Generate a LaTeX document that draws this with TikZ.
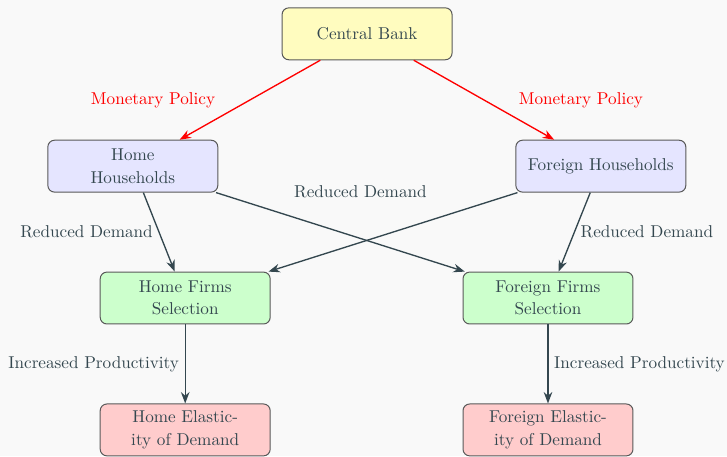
\documentclass[tikz,border=0pt]{standalone}
\usepackage{tikz}
\usetikzlibrary{arrows.meta}
\definecolor{inkgray}{HTML}{34474F}
\definecolor{paper}{HTML}{F9F9F9}

\begin{document}
\begin{tikzpicture}[ > = {Stealth[length=2.4mm,width=1.8mm]}, font=\fontsize{10.25}{13.3}\selectfont, box/.style = {draw=black!65, semithick, rounded corners=4pt, minimum width=3.57cm, minimum height=1.09cm, align=center, text=inkgray}, flow/.style = {thick, inkgray, ->}, policy/.style = {thick, red, ->}]

    % canvas
    \clip (0,0) rectangle (15.27,-9.58);
    \fill[paper] (0,0) rectangle (15.27,-9.58);

    % nodes
    \node[box, fill=yellow!25] (cb) at (7.71,-0.71) {Central Bank};
    \node[box, fill=blue!10] (hhome) at (2.79,-3.49) {Home\\Households};
    \node[box, fill=blue!10] (hforeign) at (12.62,-3.49) {Foreign Households};
    \node[box, fill=green!20] (fhome) at (3.89,-6.26) {Home Firms\\Selection};
    \node[box, fill=green!20] (fforeign) at (11.51,-6.26) {Foreign Firms\\Selection};
    \node[box, fill=red!20] (ehome) at (3.89,-9.03) {Home Elastic-\\ity of Demand};
    \node[box, fill=red!20] (eforeign) at (11.51,-9.03) {Foreign Elastic-\\ity of Demand};

    % policy channel
    \draw[policy] (cb) -- node[midway, left=0.6cm, red] {Monetary Policy} (hhome);
    \draw[policy] (cb) -- node[midway, right=0.6cm, red] {Monetary Policy} (hforeign);

    % demand
    \draw[flow] (hhome) -- node[midway, left, text=inkgray] {Reduced Demand} (fhome);
    \draw[flow] (hhome) -- node[midway, above=0.58cm, xshift=0.42cm, text=inkgray] {Reduced Demand} (fforeign);
    \draw[flow] (hforeign) -- (fhome);
    \draw[flow] (hforeign) -- node[midway, right, text=inkgray] {Reduced Demand} (fforeign);

    % productivity
    \draw[flow] (fhome) -- node[midway, left, text=inkgray] {Increased Productivity} (ehome);
    \draw[flow] (fforeign) -- node[midway, right, text=inkgray] {Increased Productivity} (eforeign);

\end{tikzpicture}
\end{document}
